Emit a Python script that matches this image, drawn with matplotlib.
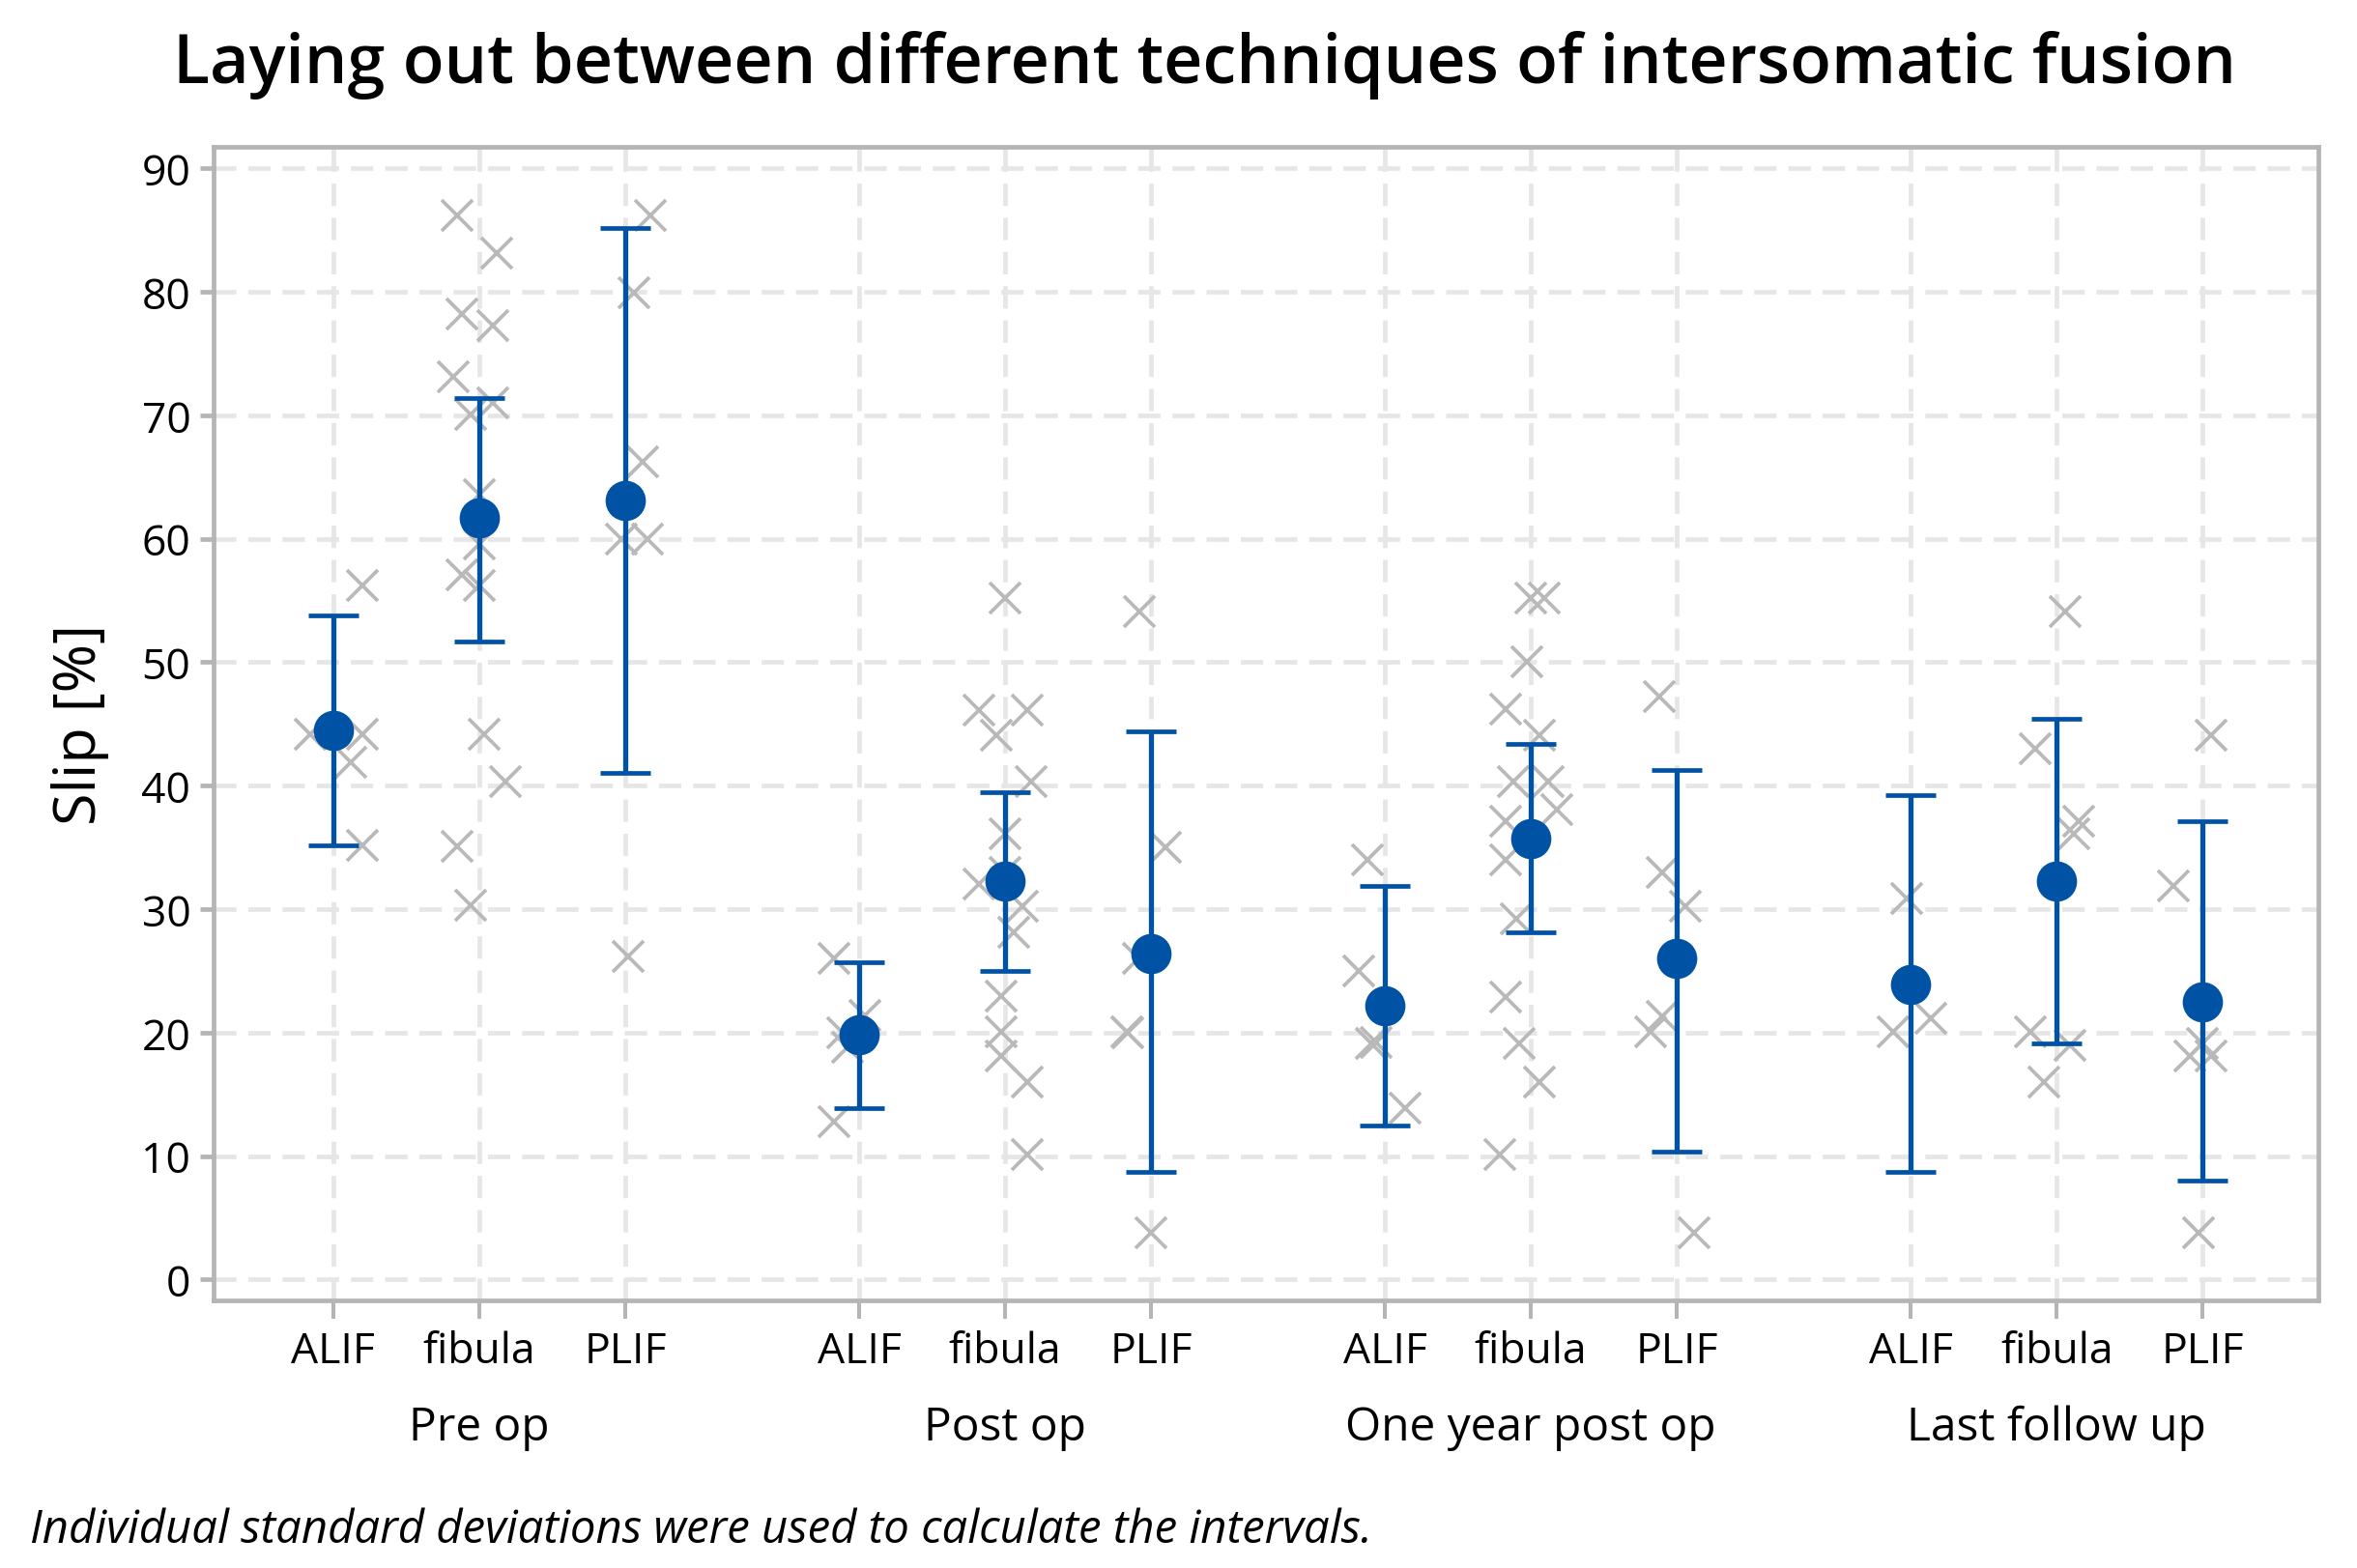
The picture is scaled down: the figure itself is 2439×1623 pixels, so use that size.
import numpy as np
import matplotlib
matplotlib.use("Agg")
import matplotlib.pyplot as plt
import matplotlib.transforms as mtransforms

plt.rcParams['font.family'] = ['Open Sans', 'DejaVu Sans']

times = ["Pre op", "Post op", "One year post op", "Last follow up"]
techniques = ["ALIF", "fibula", "PLIF"]

# individual values, per time point: [ALIF, fibula, PLIF]
pre_op = [
    [56.2, 44.2, 44.2, 41.9, 35.2],
    [86.2, 83.1, 78.2, 77.3, 73.1, 71.0, 70.1, 63.6, 59.6, 57.1, 56.2, 44.2, 40.3, 35.1, 30.3],
    [86.2, 79.9, 66.2, 60.0, 60.0, 26.2],
]
post_op = [
    [26.0, 21.4, 20.0, 18.8, 12.8],
    [55.2, 46.1, 46.1, 44.1, 40.3, 36.1, 33.0, 32.0, 30.2, 28.1, 23.0, 20.1, 18.1, 16.0, 10.1],
    [54.1, 35.0, 26.0, 20.1, 20.0, 3.8],
]
one_year = [
    [34.0, 25.0, 19.2, 19.1, 13.9],
    [55.2, 55.2, 50.0, 46.2, 44.1, 40.3, 40.3, 38.1, 37.1, 34.0, 29.2, 22.9, 19.1, 16.0, 10.1],
    [47.2, 33.0, 30.2, 21.3, 20.1, 3.8],
]
last_fu = [
    [30.9, 21.2, 20.1],
    [54.1, 43.0, 37.1, 36.1, 20.1, 19.0, 16.0],
    [44.1, 31.9, 19.1, 18.1, 18.1, 3.8],
]

# horizontal jitter of the crosses (fraction of category spacing)
pre_op_dx = [
    [0.20, -0.16, 0.20, 0.12, 0.20],
    [-0.15, 0.12, -0.12, 0.09, -0.18, 0.09, -0.06, 0.0, 0.0, -0.12, 0.0, 0.03, 0.18, -0.15, -0.06],
    [0.17, 0.06, 0.12, -0.03, 0.15, 0.02],
]
post_op_dx = [
    [-0.17, 0.04, -0.11, -0.08, -0.17],
    [0.0, -0.18, 0.15, -0.06, 0.18, 0.0, 0.0, -0.18, 0.12, 0.06, -0.03, -0.03, -0.03, 0.15, 0.15],
    [-0.08, 0.10, -0.09, -0.17, -0.16, 0.0],
]
one_year_dx = [
    [-0.12, -0.18, -0.06, -0.09, 0.14],
    [0.0, 0.09, -0.03, -0.17, 0.06, -0.12, 0.12, 0.18, -0.17, -0.17, -0.10, -0.17, -0.08, 0.06, -0.21],
    [-0.12, -0.10, 0.06, -0.10, -0.18, 0.12],
]
last_fu_dx = [
    [-0.03, 0.14, -0.12],
    [0.06, -0.15, 0.15, 0.12, -0.18, 0.09, -0.09],
    [0.06, -0.20, 0.0, -0.09, 0.06, -0.03],
]

# means and interval ends
means = [[44.5, 61.7, 63.1], [19.8, 32.3, 26.4], [22.2, 35.7, 26.0], [23.9, 32.3, 22.5]]
ci_low = [[35.2, 51.7, 41.0], [13.9, 25.0, 8.7], [12.5, 28.1, 10.4], [8.7, 19.1, 8.0]]
ci_high = [[53.8, 71.4, 85.2], [25.7, 39.5, 44.4], [31.9, 43.4, 41.3], [39.2, 45.4, 37.1]]

all_values = [pre_op, post_op, one_year, last_fu]
all_dx = [pre_op_dx, post_op_dx, one_year_dx, last_fu_dx]

blue = "#0052a5"
grey = "#b9b9b9"
axis_grey = "#b5b5b5"
grid_grey = "#e6e6e6"

fig = plt.figure(figsize=(24.39, 16.24), dpi=100)
ax = fig.add_axes([0.0906, 0.1707, 0.9835 - 0.0906, 0.906 - 0.1707])

group_gap = 3.6
xpos = []
for g in range(len(times)):
    for t in range(len(techniques)):
        xpos.append(g * group_gap + t)

# crosses
i = 0
for g in range(len(times)):
    for t in range(len(techniques)):
        vals = np.array(all_values[g][t])
        dx = np.array(all_dx[g][t])
        ax.plot(xpos[i] + dx, vals, linestyle="none", marker="x", ms=23, mew=2.7,
                color=grey, zorder=3)
        i += 1

# means with intervals
m = np.array(means).ravel()
lo = np.array(ci_low).ravel()
hi = np.array(ci_high).ravel()
ax.errorbar(xpos, m, yerr=[m - lo, hi - m], fmt="o", ms=29, color=blue, ecolor=blue,
            elinewidth=3.8, capsize=19, capthick=3.4, zorder=5)

ax.set_xlim(-0.82, 12.8 + 0.79)
ax.set_ylim(-1.67, 91.77)
ax.set_yticks(np.arange(0, 91, 10))
ax.set_xticks(xpos)
ax.set_xticklabels(techniques * len(times))

ax.grid(True, color=grid_grey, linewidth=3.4, linestyle=(0, (4.9, 2.6)), zorder=0)
ax.set_axisbelow(True)

for s in ax.spines.values():
    s.set_color(axis_grey)
    s.set_linewidth(3.4)

ax.tick_params(axis="y", colors=axis_grey, labelcolor="black", length=10, width=3.4,
               labelsize=32, pad=7)
ax.tick_params(axis="x", colors=axis_grey, labelcolor="black", length=14, width=2.9,
               labelsize=32, pad=8)

ax.set_ylabel("Slip [%]", fontsize=44, labelpad=24)

trans = mtransforms.blended_transform_factory(ax.transData, fig.transFigure)
for g, name in enumerate(times):
    ax.text(g * group_gap + 1, 0.0895, name, transform=trans, ha="center", va="center",
            fontsize=34.5)

fig.text(0.511, 0.947, "Laying out between different techniques of intersomatic fusion",
         ha="center", va="baseline", fontsize=50.5, fontweight="semibold")
fig.text(0.0127, 0.0245, "Individual standard deviations were used to calculate the intervals.",
         ha="left", va="center", fontsize=34, style="italic")

fig.savefig("out.png", dpi=100)
